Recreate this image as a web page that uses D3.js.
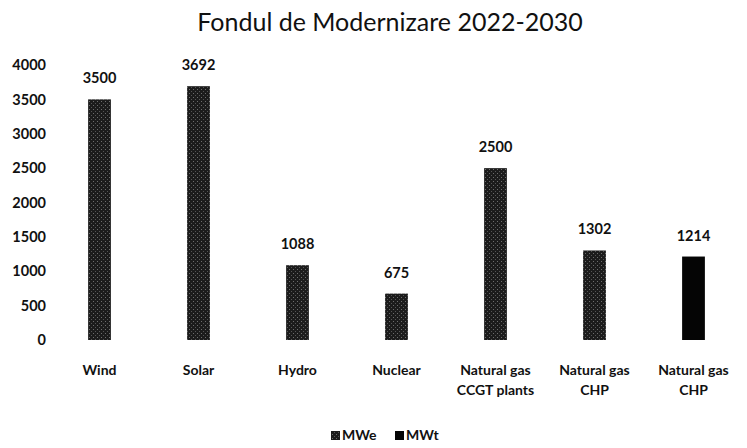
<!DOCTYPE html>
<html>
<head>
<meta charset="utf-8">
<script src="https://cdn.jsdelivr.net/npm/d3@7"></script>
<style>
  body { margin: 0; background: #fff; }
  text { font-family: Lato, "Open Sans", sans-serif; fill: #111; }
</style>
</head>
<body>
<svg id="chart" width="747" height="448"></svg>
<script>
'use strict'
// data
const categories = ['Wind', 'Solar', 'Hydro', 'Nuclear', 'Natural gas|CCGT plants', 'Natural gas|CHP', 'Natural gas|CHP']
const values = [3500, 3692, 1088, 675, 2500, 1302, 1214]
const units = ['MWe', 'MWe', 'MWe', 'MWe', 'MWe', 'MWe', 'MWt']
const seriesNames = ['MWe', 'MWt']
const yTicks = [0, 500, 1000, 1500, 2000, 2500, 3000, 3500, 4000]

const svg = d3.select('#chart')
const W = 747, H = 448
const margin = {top: 65, right: 4, bottom: 108, left: 50}

// dotted texture like the scanned bars
const defs = svg.append('defs')
const pat = defs.append('pattern').attr('id', 'dots')
  .attr('width', 4).attr('height', 4).attr('patternUnits', 'userSpaceOnUse')
pat.append('rect').attr('width', 4).attr('height', 4).attr('fill', '#1c1c1c')
pat.append('rect').attr('x', 1).attr('y', 1).attr('width', 1).attr('height', 1).attr('fill', '#6e6e6e')
pat.append('rect').attr('x', 3).attr('y', 3).attr('width', 1).attr('height', 1).attr('fill', '#555')

const fillFor = u => u === 'MWe' ? 'url(#dots)' : '#050505'

const x = d3.scaleBand()
  .domain(d3.range(categories.length))
  .range([margin.left, W - margin.right])
  .paddingInner(0.77).paddingOuter(0.385)

const y = d3.scaleLinear()
  .domain([0, 4000])
  .range([H - margin.bottom, margin.top])

// title
svg.append('text')
  .attr('x', 390).attr('y', 31)
  .attr('text-anchor', 'middle')
  .style('font-size', '25px')
  .text('Fondul de Modernizare 2022-2030')

// y axis, labels only
const yAxis = d3.axisLeft(y).tickValues(yTicks).tickFormat(d3.format('d')).tickSize(0).tickPadding(0)
const ga = svg.append('g')
  .attr('transform', `translate(${margin.left - 4},0)`)
  .call(yAxis)
ga.select('.domain').remove()
ga.selectAll('text')
  .style('font-family', 'Lato, "Open Sans", sans-serif')
  .style('font-size', '14.5px')
  .style('font-weight', 'bold')
  .attr('fill', '#111')

// bars
svg.append('g').selectAll('rect')
  .data(values)
  .join('rect')
  .attr('x', (d, i) => x(i))
  .attr('y', d => y(d))
  .attr('width', x.bandwidth())
  .attr('height', d => y(0) - y(d))
  .attr('fill', (d, i) => fillFor(units[i]))

// value labels
svg.append('g').selectAll('text')
  .data(values)
  .join('text')
  .attr('x', (d, i) => x(i) + x.bandwidth() / 2)
  .attr('y', d => y(d) - 16)
  .attr('text-anchor', 'middle')
  .style('font-size', '14.5px')
  .style('font-weight', 'bold')
  .text(d => d)

// category labels (two lines where needed)
const cat = svg.append('g').selectAll('text')
  .data(categories)
  .join('text')
  .attr('x', (d, i) => x(i) + x.bandwidth() / 2)
  .attr('y', 375)
  .attr('text-anchor', 'middle')
  .style('font-size', '14px')
  .style('font-weight', 'bold')
cat.each(function(d) {
  const t = d3.select(this)
  const cx = t.attr('x')
  d.split('|').forEach((line, k) => {
    t.append('tspan').attr('x', cx).attr('dy', k ? 20 : 0).text(line)
  })
})

// legend
const leg = svg.append('g').attr('transform', 'translate(331,437)')
let lx = 0
seriesNames.forEach(s => {
  leg.append('rect').attr('x', lx).attr('y', -6).attr('width', 9).attr('height', 9).attr('fill', fillFor(s))
  leg.append('text').attr('x', lx + 11).attr('y', 3)
    .style('font-size', '14px').style('font-weight', 'bold').text(s)
  lx += 64
})
</script>
</body>
</html>
